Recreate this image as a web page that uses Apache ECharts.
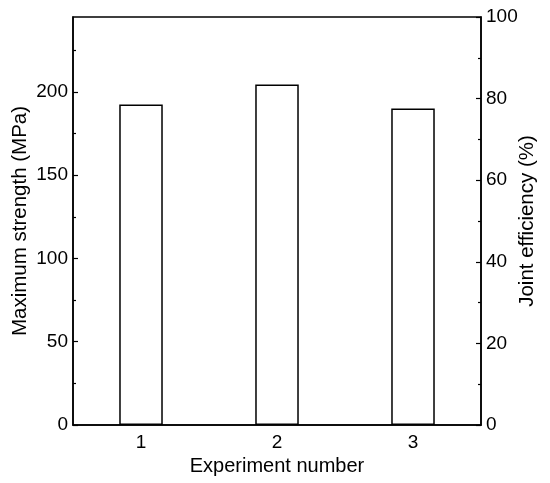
<!DOCTYPE html>
<html>
<head>
<meta charset="utf-8">
<script src="https://cdn.jsdelivr.net/npm/echarts@6/dist/echarts.min.js"></script>
<style>
  html,body{margin:0;padding:0;background:#fff;}
  #chart{width:550px;height:483px;}
</style>
</head>
<body>
<div id="chart"></div>
<script>
var experiments=['1','2','3'];
var maxStrength=[192.5,204.5,190];
var strengthTicks=[0,50,100,150,200];
var strengthMinor=[25,75,125,175,225];
var strengthMax=245; // base metal strength = 100 % efficiency

var font='"Liberation Sans", Arial, sans-serif';
var black='#000';

var myChart=echarts.init(document.getElementById('chart'));
var option={
	animation:false,
	backgroundColor:'#fff',
	grid:{
		left:73, right:69, top:17, bottom:58,
		outerBoundsMode:'none',
		show:true, borderColor:black, borderWidth:1.5, backgroundColor:'transparent'
	},
	xAxis:[{
		type:'category',
		data:experiments,
		name:'Experiment number',
		nameLocation:'middle',
		nameGap:31,
		nameMoveOverlap:false,
		nameTextStyle:{fontFamily:font,fontSize:20,color:black},
		axisLine:{lineStyle:{color:black,width:1.5}},
		axisTick:{show:false},
		axisLabel:{fontFamily:font,fontSize:19,color:black,margin:8},
		splitLine:{show:false}
	}],
	yAxis:[{
		type:'value',
		position:'left',
		min:0, max:strengthMax,
		name:'Maximum strength (MPa)',
		nameLocation:'middle',
		nameRotate:90,
		nameGap:42,
		nameMoveOverlap:false,
		nameTextStyle:{fontFamily:font,fontSize:20.5,color:black},
		axisLine:{show:true,lineStyle:{color:black,width:1.5}},
		axisTick:{show:true,inside:true,length:5,customValues:strengthTicks,lineStyle:{color:black,width:1.2}},
		axisLabel:{fontFamily:font,fontSize:19,color:black,margin:5,customValues:strengthTicks},
		splitLine:{show:false}
	},{
		// minor ticks of the strength axis
		type:'value',
		position:'left',
		min:0, max:strengthMax,
		axisLine:{show:false},
		axisTick:{show:true,inside:true,length:3,customValues:strengthMinor,lineStyle:{color:black,width:1.2}},
		axisLabel:{show:false},
		splitLine:{show:false}
	},{
		type:'value',
		position:'right',
		min:0, max:100, interval:20,
		name:'Joint efficiency (%)',
		nameLocation:'middle',
		nameRotate:90,
		nameGap:36,
		nameMoveOverlap:false,
		nameTextStyle:{fontFamily:font,fontSize:20.5,color:black},
		axisLine:{show:true,lineStyle:{color:black,width:1.5}},
		axisTick:{show:true,inside:true,length:5,lineStyle:{color:black,width:1.2}},
		minorTick:{show:true,splitNumber:2,length:3,lineStyle:{color:black,width:1.2}},
		axisLabel:{fontFamily:font,fontSize:19,color:black,margin:5},
		splitLine:{show:false}
	}],
	series:[{
		name:'Maximum strength',
		type:'bar',
		yAxisIndex:0,
		data:maxStrength,
		barWidth:'32%',
		itemStyle:{color:'#fff',borderColor:black,borderWidth:1.5}
	}]
};
myChart.setOption(option);
</script>
</body>
</html>
